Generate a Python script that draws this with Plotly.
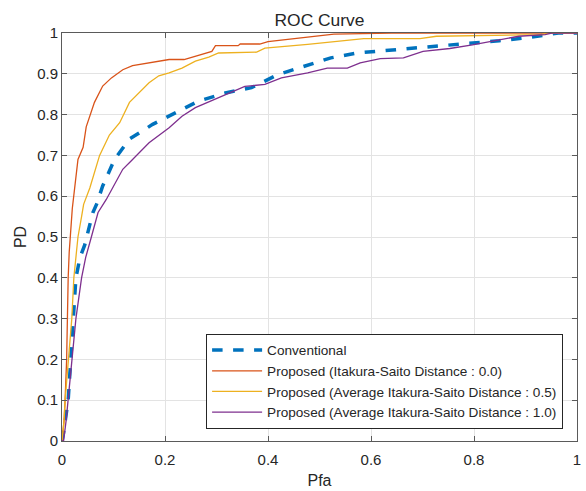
import plotly.graph_objects as go

# Conventional (blue dashed)
conv_pfa = [0, 0.003, 0.012, 0.017, 0.022, 0.027, 0.035, 0.044, 0.050, 0.060, 0.067, 0.079, 0.102, 0.131,
            0.176, 0.22, 0.265, 0.317, 0.368, 0.419, 0.47, 0.522, 0.573, 0.631, 0.688, 0.746,
            0.797, 0.849, 0.906, 0.964, 1.0]
conv_pd = [0, 0.02, 0.10, 0.20, 0.30, 0.40, 0.45, 0.48, 0.51, 0.56, 0.58, 0.625, 0.69, 0.74,
           0.776, 0.804, 0.833, 0.853, 0.866, 0.898, 0.918, 0.939, 0.951, 0.957, 0.963, 0.969,
           0.976, 0.981, 0.989, 1.0, 1.0]

# Proposed (Itakura-Saito Distance : 0.0)
red_pfa = [0, 0.004, 0.006, 0.009, 0.012, 0.014, 0.020, 0.031, 0.041, 0.047, 0.063, 0.079, 0.096, 0.118,
           0.137, 0.169, 0.208, 0.237, 0.271, 0.291, 0.298, 0.342, 0.346, 0.384, 0.40, 0.49, 0.528,
           0.64, 1.0]
red_pd = [0, 0.05, 0.10, 0.20, 0.40, 0.463, 0.57, 0.69, 0.72, 0.77, 0.83, 0.87, 0.89, 0.91,
          0.92, 0.927, 0.935, 0.935, 0.947, 0.955, 0.969, 0.969, 0.973, 0.973, 0.979, 0.992, 0.997,
          1.0, 1.0]

# Proposed (Average Itakura-Saito Distance : 0.5)
yel_pfa = [0, 0.004, 0.006, 0.012, 0.019, 0.023, 0.031, 0.038, 0.042, 0.054, 0.073, 0.092, 0.112, 0.131,
           0.156, 0.169, 0.188, 0.208, 0.233, 0.259, 0.285, 0.304, 0.378, 0.394, 0.477, 0.528, 0.586,
           0.695, 0.727, 0.932, 0.944, 1.0]
yel_pd = [0, 0.05, 0.10, 0.20, 0.30, 0.40, 0.50, 0.55, 0.58, 0.62, 0.70, 0.75, 0.78, 0.83,
          0.86, 0.878, 0.895, 0.902, 0.914, 0.931, 0.941, 0.951, 0.953, 0.963, 0.972, 0.979, 0.986,
          0.986, 0.992, 0.996, 1.0, 1.0]

# Proposed (Average Itakura-Saito Distance : 1.0)
pur_pfa = [0, 0.003, 0.008, 0.012, 0.019, 0.027, 0.038, 0.046, 0.057, 0.070, 0.086, 0.101, 0.118, 0.137,
           0.156, 0.169, 0.208, 0.233, 0.259, 0.297, 0.355, 0.394, 0.426, 0.477, 0.515, 0.554, 0.579,
           0.618, 0.663, 0.701, 0.753, 0.797, 0.855, 0.887, 0.938, 0.951, 1.0]
pur_pd = [0, 0.0, 0.05, 0.10, 0.20, 0.30, 0.40, 0.45, 0.50, 0.56, 0.592, 0.625, 0.666, 0.69,
          0.715, 0.731, 0.768, 0.796, 0.817, 0.837, 0.869, 0.874, 0.89, 0.902, 0.914, 0.914, 0.927,
          0.937, 0.939, 0.955, 0.962, 0.971, 0.984, 0.992, 0.996, 1.0, 1.0]

series_names = ["Conventional",
                "Proposed (Itakura-Saito Distance : 0.0)",
                "Proposed (Average Itakura-Saito Distance : 0.5)",
                "Proposed (Average Itakura-Saito Distance : 1.0)"]

x_ticks = [0, 0.2, 0.4, 0.6, 0.8, 1]
x_tick_labels = ["0", "0.2", "0.4", "0.6", "0.8", "1"]
y_ticks = [0, 0.1, 0.2, 0.3, 0.4, 0.5, 0.6, 0.7, 0.8, 0.9, 1]
y_tick_labels = ["0", "0.1", "0.2", "0.3", "0.4", "0.5", "0.6", "0.7", "0.8", "0.9", "1"]

FONT = "Liberation Sans, Arial, sans-serif"
TXT = "#262626"

fig = go.Figure()
fig.add_trace(go.Scatter(x=conv_pfa, y=conv_pd, mode="lines", name=series_names[0],
                         line=dict(color="#0072BD", width=3.5, dash="dash")))
fig.add_trace(go.Scatter(x=red_pfa, y=red_pd, mode="lines", name=series_names[1],
                         line=dict(color="#D95319", width=1.3)))
fig.add_trace(go.Scatter(x=yel_pfa, y=yel_pd, mode="lines", name=series_names[2],
                         line=dict(color="#EDB120", width=1.3)))
fig.add_trace(go.Scatter(x=pur_pfa, y=pur_pd, mode="lines", name=series_names[3],
                         line=dict(color="#7E2F8E", width=1.3)))

axis_common = dict(
    showgrid=True, gridcolor="#e3e3e3", gridwidth=1,
    showline=True, linecolor="#5a5a5a", linewidth=1, mirror="ticks",
    ticks="inside", ticklen=5, tickcolor="#5a5a5a",
    tickfont=dict(family=FONT, size=15, color=TXT),
    zeroline=False,
)

fig.update_layout(
    width=586, height=491,
    margin=dict(l=62, r=5, t=33, b=49),
    paper_bgcolor="white", plot_bgcolor="white",
    font=dict(family=FONT, color=TXT),
    title=dict(text="ROC Curve", x=0.5, xref="paper", xanchor="center",
               y=1 - 20 / 491, yref="container", yanchor="middle",
               font=dict(family=FONT, size=17.4, color=TXT)),
    xaxis=dict(range=[0, 1], tickvals=x_ticks, ticktext=x_tick_labels,
               ticklabeloverflow="allow", ticklabelstandoff=5,
               title=dict(text="Pfa", font=dict(family=FONT, size=16, color=TXT), standoff=7),
               **axis_common),
    yaxis=dict(range=[0, 1], tickvals=y_ticks, ticktext=y_tick_labels,
               title=dict(text="PD", font=dict(family=FONT, size=16, color=TXT), standoff=6),
               **axis_common),
    legend=dict(x=0.973, xanchor="right", y=0.03, yanchor="bottom",
                bgcolor="white", bordercolor="#262626", borderwidth=1,
                font=dict(family=FONT, size=13.6, color=TXT),
                tracegroupgap=0, itemwidth=50),
    showlegend=True,
)

fig.write_html("out.html")
